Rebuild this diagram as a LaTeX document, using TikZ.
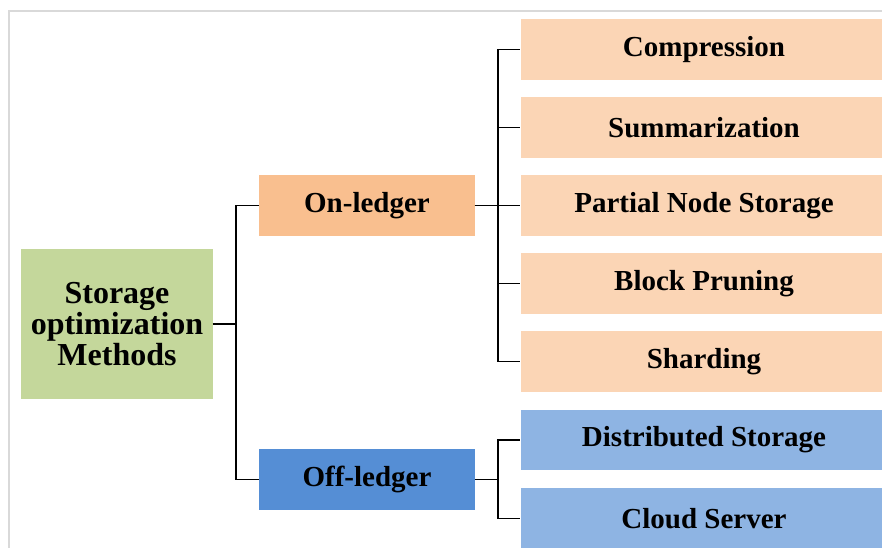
\documentclass[tikz,border=0pt]{standalone}
\usepackage{fontspec}
\setmainfont{Liberation Serif}
\usepackage{tikz}
\usetikzlibrary{positioning,calc}
\definecolor{rootgreen}{HTML}{C4D79B}
\definecolor{ondark}{HTML}{F9BF8F}
\definecolor{onlight}{HTML}{FBD5B5}
\definecolor{offdark}{HTML}{558ED5}
\definecolor{offlight}{HTML}{8EB4E3}
\definecolor{frame}{HTML}{D9D9D9}
\tikzset{%
	box/.style     = {rectangle, inner sep=0pt, text centered, font=\fontsize{29bp}{30bp}\selectfont\bfseries},
	rootbox/.style = {box, fill=rootgreen, minimum width=192, minimum height=150, align=center, font=\fontsize{32bp}{31bp}\selectfont\bfseries},
	midbox/.style  = {box, minimum width=216, minimum height=61},
	leafbox/.style = {box, minimum width=368, minimum height=61},
	link/.style    = {line width=1.5bp, black},
}
\begin{document}
\begin{tikzpicture}[x=1bp,y=-1bp]
	\useasboundingbox (0,0) rectangle (882,548);
	\draw[frame,line width=1.5bp] (9,548) -- (9,11) -- (882,11);  % page frame
	% root and the two ledger groups
	\node[rootbox] (root) at (117,324) {Storage\\optimization\\Methods};
	\node[midbox,fill=ondark] (onledger) at (367,205.5) {On-ledger};
	\node[midbox,fill=offdark] (offledger) at (367,479.5) {Off-ledger};
	% on-ledger methods
	\node[leafbox,fill=onlight] (compression) at (704,49.5) {Compression};
	\node[leafbox,fill=onlight] (summarization) at (704,127.5) {Summarization};
	\node[leafbox,fill=onlight] (partial) at (704,205.5) {Partial Node Storage};
	\node[leafbox,fill=onlight] (pruning) at (704,283.5) {Block Pruning};
	\node[leafbox,fill=onlight] (sharding) at (704,361.5) {Sharding};
	% off-ledger methods
	\node[leafbox,fill=offlight] (distributed) at (704,440) {Distributed\ Storage};
	\node[leafbox,fill=offlight] (cloud) at (704,518.5) {Cloud Server};
	% connectors
	\foreach \n in {onledger,offledger}
		\draw[link] (root.east) -- ++(23,0) |- (\n.west);
	\foreach \n in {compression,summarization,partial,pruning,sharding}
		\draw[link] (onledger.east) -- ++(23,0) |- (\n.west);
	\foreach \n in {distributed,cloud}
		\draw[link] (offledger.east) -- ++(23,0) |- (\n.west);
\end{tikzpicture}
\end{document}
